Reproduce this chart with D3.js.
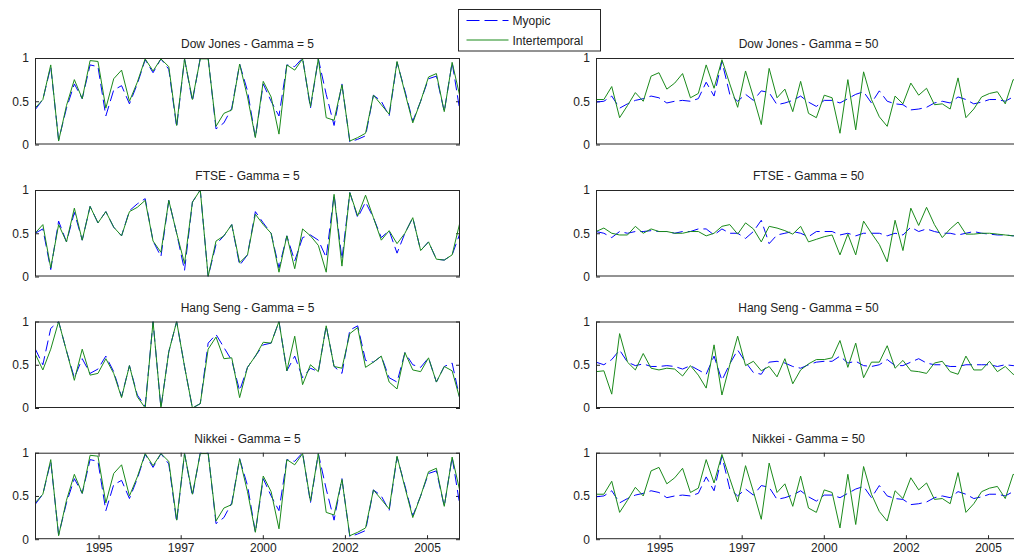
<!DOCTYPE html>
<html>
<head>
<meta charset="utf-8">
<script src="https://cdn.jsdelivr.net/npm/d3@7"></script>
<style>
    body { margin: 0; background: #fff; }
    svg { display: block; font-family: "Liberation Sans", Arial, sans-serif; }
</style>
</head>
<body>
<div id="chart"></div>
<script>
// one rebalancing date roughly every 60 trading days, Jan 1993 - Dec 2005
const dates = d3.range(55).map(i => 1993.065 + i * 0.2396);

const xTicks = [1995, 1997.5, 2000, 2002.5, 2005];
const xTickLabels = ['1995', '1997', '2000', '2002', '2005'];
const yTicks = [0, 0.5, 1];

const dowMyopic5 = [0.40, 0.52, 0.90, 0.05, 0.42, 0.70, 0.53, 0.92, 0.90, 0.33,
    0.63, 0.68, 0.47, 0.70, 0.98, 0.83, 0.99, 0.87, 0.20, 0.99,
    0.50, 1.00, 1.00, 0.18, 0.25, 0.42, 0.93, 0.62, 0.08, 0.70,
    0.50, 0.33, 0.92, 0.90, 1.00, 0.42, 0.99, 0.58, 0.22, 0.70,
    0.03, 0.06, 0.10, 0.57, 0.50, 0.33, 0.95, 0.62, 0.27, 0.50,
    0.76, 0.79, 0.38, 0.95, 0.38];
const dowInter5 = [0.42, 0.52, 0.92, 0.04, 0.45, 0.75, 0.53, 0.97, 0.96, 0.42,
    0.76, 0.86, 0.50, 0.72, 0.99, 0.85, 0.99, 0.90, 0.22, 0.99,
    0.52, 0.99, 0.99, 0.21, 0.36, 0.40, 0.93, 0.55, 0.08, 0.73,
    0.55, 0.12, 0.92, 0.86, 0.99, 0.44, 0.99, 0.31, 0.28, 0.69,
    0.04, 0.08, 0.13, 0.57, 0.46, 0.35, 0.96, 0.60, 0.25, 0.50,
    0.78, 0.82, 0.38, 0.95, 0.55];

const dowMyopic50 = [0.49, 0.50, 0.56, 0.42, 0.47, 0.51, 0.53, 0.56, 0.54, 0.48,
    0.50, 0.51, 0.50, 0.53, 0.72, 0.56, 0.96, 0.58, 0.50, 0.58,
    0.51, 0.62, 0.60, 0.46, 0.48, 0.51, 0.56, 0.49, 0.44, 0.51,
    0.51, 0.48, 0.53, 0.58, 0.61, 0.48, 0.62, 0.50, 0.47, 0.46,
    0.40, 0.41, 0.43, 0.48, 0.50, 0.48, 0.55, 0.52, 0.47, 0.49,
    0.52, 0.52, 0.50, 0.55, 0.56];
const dowInter50 = [0.52, 0.52, 0.67, 0.31, 0.45, 0.60, 0.50, 0.79, 0.83, 0.64,
    0.71, 0.82, 0.54, 0.59, 0.92, 0.65, 0.98, 0.70, 0.43, 0.85,
    0.55, 0.23, 0.88, 0.54, 0.64, 0.38, 0.73, 0.36, 0.31, 0.57,
    0.54, 0.13, 0.75, 0.17, 0.84, 0.52, 0.32, 0.21, 0.56, 0.47,
    0.71, 0.57, 0.65, 0.46, 0.47, 0.41, 0.77, 0.31, 0.41, 0.55,
    0.59, 0.61, 0.47, 0.75, 0.72];

const ftseMyopic5 = [0.50, 0.55, 0.08, 0.64, 0.40, 0.74, 0.42, 0.81, 0.62, 0.75,
    0.57, 0.47, 0.76, 0.84, 0.90, 0.41, 0.23, 0.88, 0.50, 0.07,
    0.86, 1.00, 0.00, 0.37, 0.47, 0.60, 0.13, 0.25, 0.75, 0.62,
    0.50, 0.10, 0.47, 0.18, 0.45, 0.48, 0.42, 0.22, 0.95, 0.20,
    0.97, 0.68, 0.86, 0.68, 0.45, 0.53, 0.27, 0.50, 0.68, 0.30,
    0.40, 0.20, 0.19, 0.25, 0.50];
const ftseInter5 = [0.50, 0.60, 0.10, 0.60, 0.40, 0.79, 0.42, 0.81, 0.62, 0.75,
    0.57, 0.47, 0.75, 0.80, 0.88, 0.41, 0.28, 0.88, 0.50, 0.15,
    0.86, 1.00, 0.00, 0.41, 0.47, 0.60, 0.16, 0.25, 0.72, 0.60,
    0.50, 0.05, 0.47, 0.09, 0.55, 0.47, 0.36, 0.05, 0.95, 0.12,
    0.97, 0.70, 0.94, 0.68, 0.42, 0.53, 0.38, 0.50, 0.68, 0.30,
    0.40, 0.20, 0.19, 0.25, 0.63];

const ftseMyopic50 = [0.52, 0.50, 0.45, 0.52, 0.50, 0.52, 0.52, 0.53, 0.52, 0.52,
    0.50, 0.52, 0.52, 0.55, 0.55, 0.48, 0.55, 0.50, 0.50, 0.44,
    0.52, 0.65, 0.38, 0.48, 0.50, 0.52, 0.50, 0.46, 0.52, 0.52,
    0.52, 0.48, 0.50, 0.47, 0.50, 0.50, 0.50, 0.47, 0.50, 0.48,
    0.57, 0.52, 0.55, 0.52, 0.50, 0.50, 0.48, 0.50, 0.52, 0.50,
    0.49, 0.48, 0.48, 0.47, 0.48];
const ftseInter50 = [0.52, 0.56, 0.50, 0.48, 0.48, 0.58, 0.50, 0.55, 0.52, 0.52,
    0.50, 0.50, 0.52, 0.52, 0.47, 0.50, 0.58, 0.60, 0.49, 0.62,
    0.55, 0.40, 0.58, 0.56, 0.53, 0.49, 0.58, 0.40, 0.43, 0.46,
    0.48, 0.25, 0.49, 0.25, 0.64, 0.50, 0.37, 0.17, 0.65, 0.30,
    0.79, 0.59, 0.80, 0.60, 0.45, 0.55, 0.63, 0.49, 0.49, 0.50,
    0.50, 0.49, 0.48, 0.47, 0.49];

const hsMyopic5 = [0.69, 0.50, 0.92, 1.00, 0.66, 0.35, 0.57, 0.40, 0.45, 0.60,
    0.42, 0.13, 0.49, 0.15, 0.02, 1.00, 0.00, 0.65, 1.00, 0.48,
    0.00, 0.05, 0.75, 0.85, 0.70, 0.55, 0.20, 0.47, 0.60, 0.73,
    0.75, 1.00, 0.43, 0.60, 0.35, 0.46, 0.42, 0.95, 0.48, 0.40,
    0.90, 0.95, 0.55, 0.53, 0.60, 0.35, 0.30, 0.64, 0.50, 0.47,
    0.58, 0.30, 0.48, 0.52, 0.10];
const hsInter5 = [0.63, 0.44, 0.68, 1.00, 0.66, 0.32, 0.68, 0.38, 0.40, 0.57,
    0.40, 0.12, 0.49, 0.13, 0.00, 1.00, 0.00, 0.65, 1.00, 0.48,
    0.00, 0.05, 0.68, 0.82, 0.57, 0.58, 0.12, 0.47, 0.60, 0.76,
    0.75, 1.00, 0.43, 0.83, 0.27, 0.50, 0.42, 0.95, 0.48, 0.46,
    0.86, 0.93, 0.47, 0.53, 0.60, 0.30, 0.22, 0.64, 0.44, 0.42,
    0.58, 0.30, 0.48, 0.43, 0.10];

const hsMyopic50 = [0.53, 0.50, 0.56, 0.67, 0.53, 0.49, 0.51, 0.48, 0.48, 0.49,
    0.48, 0.45, 0.49, 0.44, 0.39, 0.60, 0.32, 0.51, 0.67, 0.53,
    0.41, 0.39, 0.53, 0.54, 0.52, 0.48, 0.46, 0.50, 0.53, 0.54,
    0.54, 0.60, 0.52, 0.54, 0.49, 0.48, 0.50, 0.56, 0.49, 0.49,
    0.53, 0.57, 0.52, 0.50, 0.50, 0.48, 0.48, 0.50, 0.50, 0.50,
    0.50, 0.48, 0.50, 0.49, 0.49];
const hsInter50 = [0.42, 0.43, 0.16, 0.86, 0.53, 0.44, 0.63, 0.46, 0.44, 0.46,
    0.45, 0.37, 0.49, 0.38, 0.23, 0.73, 0.15, 0.50, 0.83, 0.49,
    0.54, 0.43, 0.48, 0.36, 0.57, 0.28, 0.44, 0.51, 0.56, 0.56,
    0.58, 0.78, 0.47, 0.75, 0.35, 0.53, 0.53, 0.72, 0.46, 0.55,
    0.43, 0.42, 0.40, 0.52, 0.54, 0.42, 0.39, 0.60, 0.44, 0.44,
    0.54, 0.42, 0.48, 0.39, 0.36];

// the Nikkei panels show the very same curves as the Dow Jones ones
const nikkeiMyopic5 = dowMyopic5.slice();
const nikkeiInter5 = dowInter5.slice();
const nikkeiMyopic50 = dowMyopic50.slice();
const nikkeiInter50 = dowInter50.slice();

const titles = ['Dow Jones - Gamma = 5', 'Dow Jones - Gamma = 50',
    'FTSE - Gamma = 5', 'FTSE - Gamma = 50',
    'Hang Seng - Gamma = 5', 'Hang Seng - Gamma = 50',
    'Nikkei - Gamma = 5', 'Nikkei - Gamma = 50'];
const myopicSeries = [dowMyopic5, dowMyopic50, ftseMyopic5, ftseMyopic50,
    hsMyopic5, hsMyopic50, nikkeiMyopic5, nikkeiMyopic50];
const interSeries = [dowInter5, dowInter50, ftseInter5, ftseInter50,
    hsInter5, hsInter50, nikkeiInter5, nikkeiInter50];

const legendLabels = ['Myopic', 'Intertemporal'];
const myopicColor = '#0000ff';
const interColor = '#1b8a1b';
const axisColor = '#262626';

const svg = d3.select('#chart')
    .append('svg')
    .attr('width', 1014)
    .attr('height', 556);

const colX = [35, 596];
const rowY = [58, 190, 321.5, 452.7];
const panelW = 425;
const panelH = 86.5;

const x = d3.scaleLinear()
    .domain(d3.extent(dates))
    .range([0, panelW]);

const y = d3.scaleLinear()
    .domain([0, 1])
    .range([panelH, 0]);

const line = d3.line()
    .x((d, i) => x(dates[i]))
    .y(d => y(d));

titles.forEach((title, k) => {
    const col = k % 2;
    const row = Math.floor(k / 2);
    const g = svg.append('g')
        .attr('transform', `translate(${colX[col]},${rowY[row]})`);

    g.append('rect')
        .attr('width', panelW)
        .attr('height', panelH)
        .attr('fill', '#fff');

    g.append('clipPath')
        .attr('id', 'clip' + k)
        .append('rect')
        .attr('width', panelW)
        .attr('height', panelH);

    // axes, ticks drawn inside the box like Matlab does
    const left = g.append('g')
        .call(d3.axisLeft(y).tickValues(yTicks).tickSize(-4).tickPadding(6)
            .tickFormat(d3.format('')));
    const right = g.append('g')
        .attr('transform', `translate(${panelW},0)`)
        .call(d3.axisRight(y).tickValues(yTicks).tickSize(-4).tickFormat(''));

    const axes = [left, right];
    if (row === 3) {
        axes.push(g.append('g')
            .attr('transform', `translate(0,${panelH})`)
            .call(d3.axisBottom(x).tickValues(xTicks).tickSize(-4).tickPadding(4)
                .tickFormat((d, i) => xTickLabels[i])));
        axes.push(g.append('g')
            .call(d3.axisTop(x).tickValues(xTicks).tickSize(-4).tickFormat('')));
    }
    axes.forEach(a => {
        a.select('.domain').remove();
        a.selectAll('line').attr('stroke', axisColor);
        a.selectAll('text')
            .attr('fill', '#222')
            .style('font-size', '12px')
            .style('font-family', '"Liberation Sans", Arial, sans-serif');
    });

    const plot = g.append('g').attr('clip-path', `url(#clip${k})`);

    plot.append('path')
        .datum(myopicSeries[k])
        .attr('d', line)
        .attr('fill', 'none')
        .attr('stroke', myopicColor)
        .attr('stroke-width', 1)
        .attr('stroke-dasharray', '11,5');

    plot.append('path')
        .datum(interSeries[k])
        .attr('d', line)
        .attr('fill', 'none')
        .attr('stroke', interColor)
        .attr('stroke-width', 1);

    g.append('rect')
        .attr('x', 0.5)
        .attr('y', 0.5)
        .attr('width', panelW - 1)
        .attr('height', panelH - 1)
        .attr('fill', 'none')
        .attr('stroke', axisColor)
        .attr('stroke-width', 1);

    g.append('text')
        .attr('x', panelW / 2)
        .attr('y', -10)
        .attr('text-anchor', 'middle')
        .attr('fill', '#222')
        .style('font-size', '12px')
        .text(title);
});

// legend, drawn last so it covers the top of the "1" label underneath
const legend = svg.append('g')
    .attr('transform', 'translate(458.5,9.5)');

legend.append('rect')
    .attr('width', 142)
    .attr('height', 41.5)
    .attr('fill', '#fff')
    .attr('stroke', axisColor)
    .attr('stroke-width', 1);

legendLabels.forEach((label, i) => {
    const ly = 11 + i * 19.5;
    legend.append('line')
        .attr('x1', 8)
        .attr('x2', 50)
        .attr('y1', ly)
        .attr('y2', ly)
        .attr('stroke', i === 0 ? myopicColor : interColor)
        .attr('stroke-width', 1)
        .attr('stroke-dasharray', i === 0 ? '13,5' : null);
    legend.append('text')
        .attr('x', 54)
        .attr('y', ly + 4.5)
        .attr('fill', '#222')
        .style('font-size', '12px')
        .text(label);
});
</script>
</body>
</html>
